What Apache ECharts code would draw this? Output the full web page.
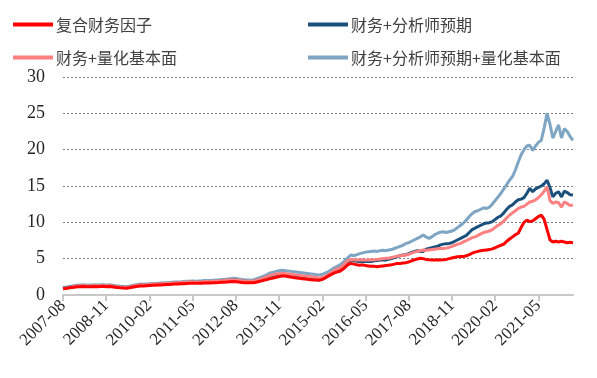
<!DOCTYPE html>
<html>
<head>
<meta charset="utf-8">
<script src="https://cdn.jsdelivr.net/npm/echarts@6/dist/echarts.min.js"></script>
<style>
html,body{margin:0;padding:0;background:#fff;}
#main{width:597px;height:378px;}
</style>
</head>
<body>
<div id="main"></div>
<script>
// Monthly categories 2007-08 .. 2022-05
const startYear = 2007, startMonth = 8, monthCount = 178;
const categories = [];
for (let k = 0; k < monthCount; k++) {
  const m0 = startMonth - 1 + k;
  const y = startYear + Math.floor(m0 / 12);
  const m = (m0 % 12) + 1;
  categories.push(y + '-' + (m < 10 ? '0' + m : m));
}
const yTicks = [0, 5, 10, 15, 20, 25, 30];

const seriesNames = ['复合财务因子', '财务+分析师预期', '财务+量化基本面', '财务+分析师预期+量化基本面'];

const compositeFinance = [
  0.85,0.90,0.96,1.02,1.08,1.12,1.15,1.17,1.14,1.12,1.15,1.17,
  1.13,1.17,1.19,1.15,1.17,1.12,1.07,1.02,0.98,0.95,0.93,0.99,
  1.06,1.13,1.20,1.25,1.23,1.27,1.30,1.33,1.35,1.37,1.39,1.42,
  1.44,1.46,1.48,1.50,1.52,1.54,1.56,1.58,1.60,1.62,1.60,1.62,
  1.63,1.65,1.66,1.64,1.67,1.69,1.71,1.74,1.76,1.79,1.82,1.85,
  1.83,1.78,1.73,1.70,1.67,1.69,1.67,1.75,1.85,1.95,2.05,2.15,
  2.25,2.35,2.45,2.55,2.62,2.60,2.55,2.48,2.42,2.35,2.30,2.25,
  2.20,2.15,2.10,2.08,2.06,2.04,2.15,2.35,2.60,2.80,3.00,3.15,
  3.25,3.50,3.85,4.20,4.35,4.25,4.15,4.10,4.15,4.05,4.00,3.95,
  3.95,3.90,3.95,4.00,4.05,4.10,4.15,4.25,4.35,4.35,4.40,4.45,
  4.55,4.70,4.85,4.95,5.05,5.00,4.90,4.85,4.80,4.80,4.85,4.80,
  4.85,4.90,5.00,5.10,5.20,5.25,5.30,5.30,5.40,5.55,5.75,5.90,
  6.00,6.10,6.15,6.20,6.25,6.35,6.50,6.70,6.85,7.00,7.40,7.70,
  8.00,8.30,8.50,9.30,10.00,10.30,10.10,10.20,10.50,10.80,11.00,10.40,
  9.00,7.60,7.30,7.40,7.30,7.40,7.30,7.20,7.25,7.20
];
const financeAnalyst = [
  0.95,1.00,1.06,1.12,1.18,1.22,1.25,1.27,1.24,1.22,1.25,1.27,
  1.23,1.27,1.29,1.25,1.27,1.22,1.17,1.12,1.08,1.05,1.02,1.09,
  1.17,1.25,1.32,1.37,1.35,1.39,1.42,1.45,1.47,1.49,1.52,1.55,
  1.57,1.59,1.62,1.65,1.67,1.69,1.71,1.73,1.75,1.77,1.75,1.77,
  1.79,1.82,1.83,1.81,1.85,1.87,1.90,1.93,1.95,1.99,2.03,2.07,
  2.05,1.99,1.93,1.89,1.85,1.87,1.85,1.97,2.08,2.20,2.35,2.50,
  2.62,2.70,2.75,2.80,2.82,2.78,2.72,2.65,2.58,2.50,2.42,2.35,
  2.30,2.25,2.20,2.15,2.10,2.06,2.20,2.40,2.70,2.95,3.20,3.40,
  3.50,3.80,4.20,4.60,4.80,4.70,4.65,4.60,4.65,4.60,4.65,4.60,
  4.70,4.75,4.80,4.85,4.80,4.90,5.00,5.15,5.30,5.40,5.50,5.55,
  5.70,5.85,6.00,6.10,6.00,6.00,6.30,6.40,6.50,6.60,6.70,6.90,
  7.00,7.05,7.10,7.20,7.40,7.60,7.80,8.00,8.20,8.60,9.00,9.20,
  9.40,9.60,9.80,9.90,9.95,10.10,10.40,10.70,10.90,11.30,11.80,12.20,
  12.40,12.80,13.10,13.20,13.40,14.00,14.70,14.20,14.60,14.80,15.00,15.30,
  15.80,14.80,13.50,14.00,14.20,13.50,14.30,14.10,13.80,13.75
];
const financeQuant = [
  0.92,0.98,1.05,1.12,1.20,1.25,1.28,1.30,1.27,1.25,1.28,1.30,
  1.26,1.30,1.32,1.28,1.30,1.25,1.20,1.15,1.10,1.08,1.05,1.12,
  1.20,1.28,1.35,1.40,1.38,1.42,1.45,1.48,1.50,1.52,1.55,1.58,
  1.60,1.62,1.65,1.68,1.70,1.72,1.74,1.76,1.78,1.80,1.78,1.80,
  1.82,1.85,1.86,1.84,1.88,1.90,1.93,1.96,1.98,2.02,2.06,2.10,
  2.08,2.02,1.96,1.92,1.88,1.90,1.88,2.00,2.12,2.25,2.40,2.55,
  2.70,2.80,2.88,2.95,3.00,2.95,2.90,2.85,2.80,2.75,2.70,2.65,
  2.60,2.55,2.50,2.45,2.40,2.30,2.40,2.55,2.80,3.05,3.35,3.55,
  3.70,4.00,4.40,4.75,4.90,4.85,4.80,4.80,4.85,4.80,4.85,4.80,
  4.85,4.90,4.95,5.00,5.05,5.05,5.15,5.25,5.35,5.40,5.45,5.50,
  5.60,5.75,5.90,6.00,6.10,6.20,6.15,6.20,6.25,6.30,6.35,6.40,
  6.40,6.45,6.55,6.70,6.85,7.00,7.10,7.30,7.50,7.70,7.90,8.00,
  8.20,8.40,8.60,8.70,8.80,9.00,9.30,9.60,9.80,10.20,10.60,11.00,
  11.30,11.60,11.90,12.10,12.20,12.50,12.80,12.90,13.10,13.40,13.80,14.30,
  14.90,13.00,12.60,12.80,12.70,12.10,12.80,12.60,12.30,12.40
];
const financeAnalystQuant = [
  1.00,1.08,1.15,1.22,1.30,1.35,1.38,1.40,1.37,1.35,1.38,1.40,
  1.36,1.40,1.42,1.38,1.40,1.35,1.30,1.25,1.20,1.18,1.15,1.22,
  1.30,1.38,1.45,1.50,1.48,1.52,1.55,1.58,1.60,1.62,1.65,1.68,
  1.70,1.72,1.75,1.78,1.80,1.82,1.85,1.88,1.90,1.92,1.90,1.93,
  1.95,1.98,2.00,1.98,2.02,2.05,2.08,2.12,2.15,2.20,2.25,2.30,
  2.28,2.22,2.15,2.10,2.05,2.08,2.05,2.20,2.35,2.50,2.65,2.85,
  3.05,3.15,3.25,3.35,3.40,3.35,3.30,3.25,3.20,3.15,3.10,3.05,
  3.00,2.95,2.90,2.85,2.80,2.75,2.85,3.00,3.20,3.45,3.70,3.90,
  4.10,4.40,4.80,5.20,5.50,5.40,5.55,5.70,5.80,5.90,5.95,6.00,
  6.05,6.00,6.10,6.15,6.10,6.20,6.25,6.40,6.55,6.70,6.85,7.10,
  7.20,7.40,7.60,7.80,8.00,8.25,8.00,7.80,8.00,8.30,8.50,8.65,
  8.70,8.60,8.70,8.80,9.00,9.30,9.60,9.90,10.30,10.80,11.20,11.50,
  11.60,11.80,12.00,11.90,12.10,12.50,13.00,13.50,14.00,14.60,15.20,15.80,
  16.30,17.20,18.30,19.30,20.00,20.50,20.60,19.90,20.50,21.00,21.30,23.00,
  25.00,23.50,21.60,22.50,23.40,21.60,22.90,22.50,21.80,21.30
];

const colors = {
  '复合财务因子': '#ff0000',
  '财务+分析师预期': '#1b4f7c',
  '财务+量化基本面': '#ff8080',
  '财务+分析师预期+量化基本面': '#7ea6c4'
};
const seriesData = {
  '复合财务因子': compositeFinance,
  '财务+分析师预期': financeAnalyst,
  '财务+量化基本面': financeQuant,
  '财务+分析师预期+量化基本面': financeAnalystQuant
};
// draw order (last on top)
const drawOrder = ['财务+分析师预期+量化基本面', '财务+分析师预期', '财务+量化基本面', '复合财务因子'];

const chart = echarts.init(document.getElementById('main'), null, {renderer: 'canvas'});
const cjk = '"Noto Sans CJK SC", "Noto Sans", sans-serif';

const legendCommon = {
  orient: 'vertical',
  icon: 'rect',
  itemWidth: 40,
  itemHeight: 4,
  itemGap: 12,
  textStyle: {fontFamily: cjk, fontSize: 16, color: '#404040', lineHeight: 21, padding: [0, 0, 0, -2]},
  padding: 0
};

chart.setOption({
  animation: false,
  color: drawOrder.map(n => colors[n]),
  legend: [
    Object.assign({}, legendCommon, {left: 13, top: 14, data: [seriesNames[0], seriesNames[2]]}),
    Object.assign({}, legendCommon, {left: 308, top: 14, data: [seriesNames[1], seriesNames[3]]})
  ],
  grid: {left: 63, right: 24, top: 77, bottom: 83},
  xAxis: {
    type: 'category',
    data: categories,
    boundaryGap: false,
    axisLine: {lineStyle: {color: '#c8c8c8', width: 2}},
    axisTick: {interval: 14, length: 6, lineStyle: {color: '#c8c8c8', width: 2}},
    axisLabel: {rotate: 45, interval: 14, fontSize: 17, fontFamily: '"Liberation Serif"', color: '#262626'},
    splitLine: {show: false}
  },
  yAxis: {
    type: 'value',
    min: yTicks[0],
    max: yTicks[yTicks.length - 1],
    interval: 5,
    axisLine: {show: false},
    axisTick: {show: false},
    axisLabel: {fontFamily: '"Liberation Serif"', fontSize: 18, color: '#262626', margin: 18},
    splitLine: {lineStyle: {color: '#7f7f7f', type: [2, 2], width: 1}}
  },
  series: drawOrder.map(n => ({
    name: n,
    type: 'line',
    data: seriesData[n],
    showSymbol: false,
    symbol: 'none',
    lineStyle: {color: colors[n], width: 3},
    itemStyle: {color: colors[n]}
  }))
});
</script>
</body>
</html>
